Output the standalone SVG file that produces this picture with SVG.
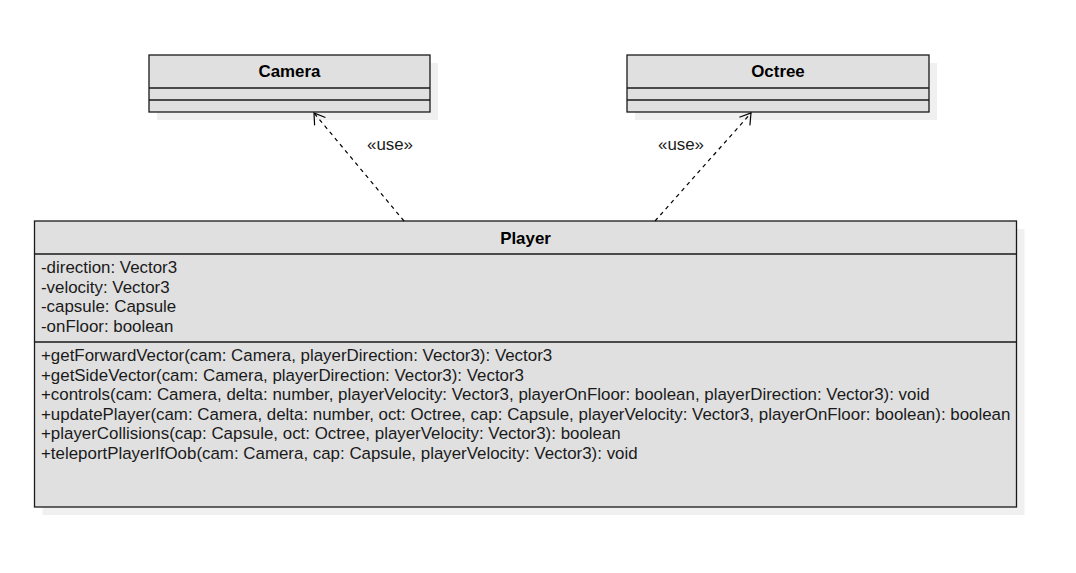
<svg xmlns="http://www.w3.org/2000/svg" width="1076" height="573" viewBox="0 0 1076 573">
<defs>
<style>
.shadow{fill:#f0f0f0;stroke:none}
.box{fill:#e0e0e0;stroke:#1a1a1a;stroke-width:1.3}
.sep{stroke:#1a1a1a;stroke-width:1.3;fill:none}
.title{font-family:"Liberation Sans",Arial,sans-serif;font-size:16.9px;font-weight:bold;fill:#000;text-anchor:middle}
.member{font-family:"Liberation Sans",Arial,sans-serif;font-size:16.9px;fill:#1a1a1a}
.label{font-family:"Liberation Sans",Arial,sans-serif;font-size:16.9px;fill:#1a1a1a;text-anchor:middle}
.dep{stroke:#000;stroke-width:1.2;stroke-dasharray:4 4;fill:none}
.head{stroke:#000;stroke-width:1.2;fill:none}
</style>
</defs>
<rect width="1076" height="573" fill="#fff"/>
<g id="camera">
<rect class="shadow" x="157" y="63" width="281" height="57"/>
<rect class="box" x="149" y="55" width="281" height="57"/>
<line class="sep" x1="149" y1="88" x2="430" y2="88"/>
<line class="sep" x1="149" y1="100" x2="430" y2="100"/>
<text class="title" x="289.5" y="77">Camera</text>
</g>
<g id="octree">
<rect class="shadow" x="635" y="63" width="302" height="57"/>
<rect class="box" x="627" y="55" width="302" height="57"/>
<line class="sep" x1="627" y1="88" x2="929" y2="88"/>
<line class="sep" x1="627" y1="100" x2="929" y2="100"/>
<text class="title" x="778" y="77">Octree</text>
</g>
<g id="player">
<rect class="shadow" x="42.5" y="229" width="982" height="286"/>
<rect class="box" x="34.5" y="221" width="982" height="286"/>
<line class="sep" x1="34.5" y1="254" x2="1016.5" y2="254"/>
<line class="sep" x1="34.5" y1="342" x2="1016.5" y2="342"/>
<text class="title" x="525.5" y="243.5">Player</text>
<text class="member" x="41" y="273">-direction: Vector3</text>
<text class="member" x="41" y="292.5">-velocity: Vector3</text>
<text class="member" x="41" y="312">-capsule: Capsule</text>
<text class="member" x="41" y="331.5">-onFloor: boolean</text>
<text class="member" x="41" y="361">+getForwardVector(cam: Camera, playerDirection: Vector3): Vector3</text>
<text class="member" x="41" y="380.5">+getSideVector(cam: Camera, playerDirection: Vector3): Vector3</text>
<text class="member" x="41" y="400">+controls(cam: Camera, delta: number, playerVelocity: Vector3, playerOnFloor: boolean, playerDirection: Vector3): void</text>
<text class="member" x="41" y="419.5">+updatePlayer(cam: Camera, delta: number, oct: Octree, cap: Capsule, playerVelocity: Vector3, playerOnFloor: boolean): boolean</text>
<text class="member" x="41" y="439">+playerCollisions(cap: Capsule, oct: Octree, playerVelocity: Vector3): boolean</text>
<text class="member" x="41" y="458.5">+teleportPlayerIfOob(cam: Camera, cap: Capsule, playerVelocity: Vector3): void</text>
</g>
<g id="connectors">
<line class="dep" x1="404" y1="221" x2="314" y2="113"/>
<polyline class="head" points="314.6,125.4 314,113 325.4,117.5"/>
<text class="label" x="390" y="150">«use»</text>
<line class="dep" x1="655" y1="221" x2="751" y2="113"/>
<polyline class="head" points="739.4,117.2 751,113 749.9,125.4"/>
<text class="label" x="681" y="150">«use»</text>
</g>
</svg>
